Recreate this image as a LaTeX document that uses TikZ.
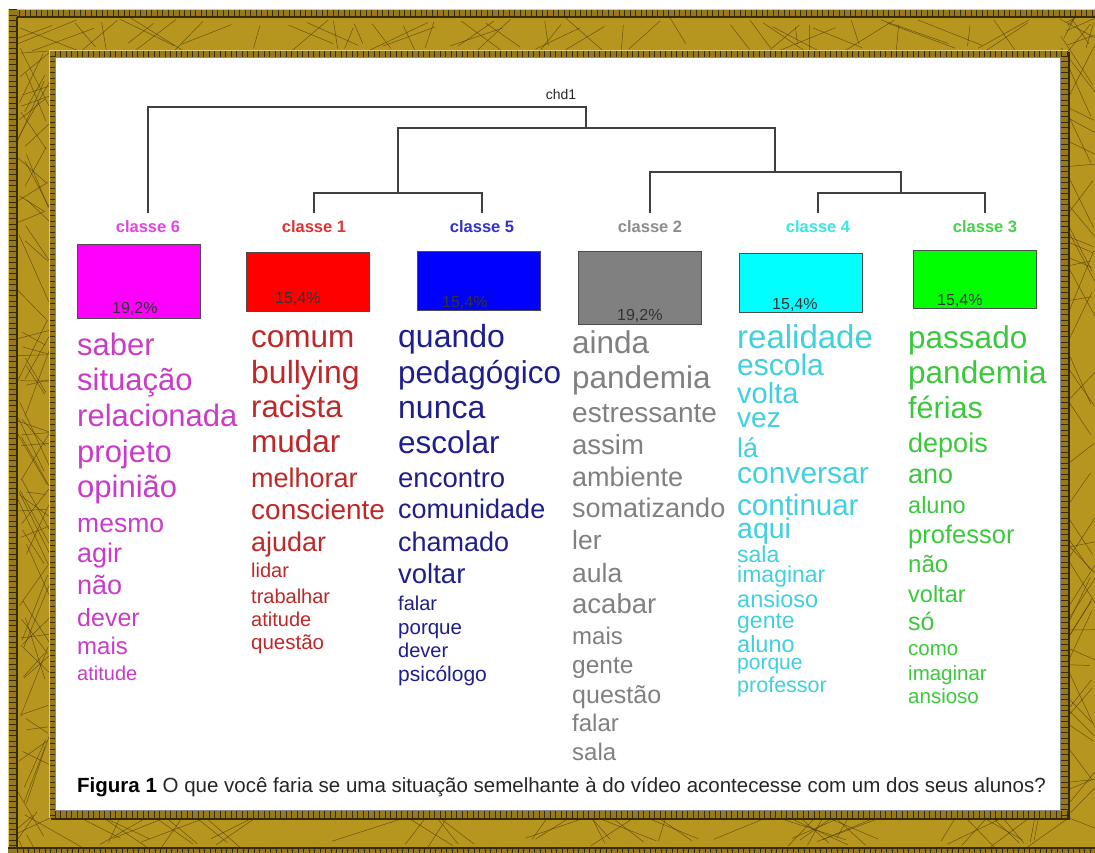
\documentclass[tikz,border=0pt]{standalone}
\usepackage{fontspec}
\setmainfont{Liberation Sans}
\definecolor{goldc}{RGB}{183,150,32}
\definecolor{beadc}{RGB}{150,122,26}
\definecolor{beaddk}{RGB}{55,42,6}
\definecolor{beadlt}{RGB}{225,205,120}
\definecolor{scratchc}{RGB}{70,55,8}
\definecolor{c6w}{RGB}{200,60,200}
\definecolor{c1w}{RGB}{190,40,40}
\definecolor{c5w}{RGB}{30,30,140}
\definecolor{c2w}{RGB}{128,128,128}
\definecolor{c4w}{RGB}{64,208,222}
\definecolor{c3w}{RGB}{60,200,60}
\definecolor{c6l}{RGB}{225,70,225}
\definecolor{c1l}{RGB}{225,50,50}
\definecolor{c5l}{RGB}{50,50,200}
\definecolor{c2l}{RGB}{140,140,140}
\definecolor{c4l}{RGB}{60,228,230}
\definecolor{c3l}{RGB}{70,210,70}
\tikzset{
 wd/.style={anchor=base west, inner sep=0pt},
 lab/.style={anchor=base, inner sep=2pt, font=\bfseries\fontsize{16.5}{16.5}\selectfont},
 cbox/.style={draw=black!70, line width=1pt, inner sep=0pt, minimum width=123pt},
 pct/.style={anchor=base west, inner sep=0pt, text=black!80, font=\fontsize{16}{16}\selectfont},
 dend/.style={draw=black!75, line width=1.2pt},
 scratch/.style={draw=scratchc, line width=0.5pt, opacity=0.7},
 beadticks/.style={draw=beaddk, dash pattern=on 1.2pt off 4.3pt},
}
\begin{document}
\begin{tikzpicture}[x=1pt,y=-1pt]
\useasboundingbox (0,0) rectangle (1095,852);
\clip (0,0) rectangle (1095,852);
\fill[white] (0,0) rectangle (1095,852);
% ---- frame ----
\fill[goldc] (8,9) rectangle (1100,860);
\begin{scope}
\clip (17,17) rectangle (1100,848);
\pgfmathsetseed{4711}
\foreach \i in {1,...,60}{
  \pgfmathsetmacro\xa{17+1080*rnd}
  \pgfmathsetmacro\xb{\xa+140*rnd-70}
  \draw[scratch] (\xa,{17+12*rnd}) -- (\xb,{57-14*rnd});
}
\foreach \i in {1,...,60}{
  \pgfmathsetmacro\xa{17+1080*rnd}
  \pgfmathsetmacro\xb{\xa+140*rnd-70}
  \draw[scratch] (\xa,{810+10*rnd}) -- (\xb,{848-10*rnd});
}
\foreach \i in {1,...,80}{
  \pgfmathsetmacro\ya{17+830*rnd}
  \pgfmathsetmacro\yb{\ya+140*rnd-70}
  \draw[scratch] ({17+10*rnd},\ya) -- ({55-12*rnd},\yb);
}
\foreach \i in {1,...,60}{
  \pgfmathsetmacro\ya{17+830*rnd}
  \pgfmathsetmacro\yb{\ya+140*rnd-70}
  \draw[scratch] ({1060+8*rnd},\ya) -- ({1098-8*rnd},\yb);
}
\end{scope}
% outer beads
\fill[beadc] (8,9) rectangle (1100,17);
\draw[beadticks, line width=8pt] (8,13) -- (1100,13);
\draw[beaddk, line width=1.2pt] (8,17) -- (1100,17);
\draw[beadlt, line width=0.8pt] (8,9.4) -- (1100,9.4);
\fill[beadc] (8,9) rectangle (17,860);
\draw[beadticks, line width=9pt] (12.5,9) -- (12.5,860);
\draw[beaddk, line width=1.2pt] (17,17) -- (17,860);
\draw[beadlt, line width=0.8pt] (8.4,9) -- (8.4,860);
\fill[beadc] (8,848) rectangle (1100,860);
\draw[beadticks, line width=8pt] (17,852) -- (1100,852);
\draw[beaddk, line width=1.2pt] (8,848) -- (1100,848);
% inner beads
\fill[beaddk] (51,52) rectangle (1070,820);
\fill[beadc] (49,50) rectangle (1068,818);
\draw[beadticks, line width=7pt] (49,53.5) -- (1068,53.5);
\draw[beadticks, line width=7pt] (49,814.5) -- (1068,814.5);
\draw[beadticks, line width=6pt] (52,50) -- (52,818);
\draw[beadticks, line width=7pt] (1064,50) -- (1064,818);
\draw[beadlt, line width=0.8pt] (49,50.4) -- (1068,50.4);
\draw[beadlt, line width=0.8pt] (49.4,50) -- (49.4,818);
\fill[white] (55,57) rectangle (1060,810);
\draw[black!45, line width=0.6pt] (55,57) rectangle (1060,810);
% ---- dendrogram ----
\node[font=\fontsize{14}{14}\selectfont, text=black!85, anchor=base, inner sep=1pt] (chd) at (561,99) {chd1};
\node[lab, text=c6l] (lab6) at (148,232) {classe 6};
\node[lab, text=c1l] (lab1) at (314,232) {classe 1};
\node[lab, text=c5l] (lab5) at (482,232) {classe 5};
\node[lab, text=c2l] (lab2) at (650,232) {classe 2};
\node[lab, text=c4l] (lab4) at (818,232) {classe 4};
\node[lab, text=c3l] (lab3) at (985,232) {classe 3};
\coordinate (root) at (586,107);
\coordinate (nA) at (586,128);
\coordinate (nB) at (398,193);
\coordinate (nC) at (775,172);
\coordinate (nD) at (901,193);
\draw[dend] ([yshift=5pt]lab6.north) |- (root) -- (nA);
\draw[dend] (nB) |- (nA) -| (nC);
\draw[dend] ([yshift=5pt]lab1.north) |- (nB) -| ([yshift=5pt]lab5.north);
\draw[dend] ([yshift=5pt]lab2.north) |- (nC) -| (nD);
\draw[dend] ([yshift=5pt]lab4.north) |- (nD) -| ([yshift=5pt]lab3.north);
% ---- boxes ----
\node[cbox, fill={rgb,255:red,255;green,0;blue,255}, minimum height=74pt] (box6) at (138.5,281) {};
\node[cbox, fill={rgb,255:red,255;green,0;blue,0}, minimum height=59pt] (box1) at (307.5,281.5) {};
\node[cbox, fill={rgb,255:red,0;green,0;blue,255}, minimum height=59pt] (box5) at (478.5,280.5) {};
\node[cbox, fill={rgb,255:red,128;green,128;blue,128}, minimum height=73pt] (box2) at (639.5,287.5) {};
\node[cbox, fill={rgb,255:red,0;green,255;blue,255}, minimum height=59pt] (box4) at (800.5,282.5) {};
\node[cbox, fill={rgb,255:red,0;green,255;blue,0}, minimum height=58pt] (box3) at (974.5,279) {};
\node[pct] (p6) at (112,313) {19,2\%};
\node[pct] (p1) at (275,303) {15,4\%};
\node[pct] (p5) at (442,307) {15,4\%};
\node[pct] (p2) at (617,320) {19,2\%};
\node[pct] (p4) at (772,309) {15,4\%};
\node[pct] (p3) at (937,305) {15,4\%};
% ---- word lists ----
\foreach \w/\s/\y [count=\i] in {saber/31/355, situação/31/390, relacionada/31/426, projeto/31/462, opinião/31/497, mesmo/26.5/532, agir/27/562, não/27/594, dever/25/626, mais/24/654, atitude/20/680}
  \node[wd, text=c6w, font={\fontsize{\s}{\s}\selectfont}] (cs\i) at (77,\y) {\w};
\foreach \w/\s/\y [count=\i] in {comum/31.5/347, bullying/32/383, racista/31/417, mudar/31.5/452, melhorar/27/487, consciente/28/519, ajudar/27/551, lidar/20/577, trabalhar/20/603, atitude/20/626, questão/20.5/649}
  \node[wd, text=c1w, font={\fontsize{\s}{\s}\selectfont}] (ca\i) at (251,\y) {\w};
\foreach \w/\s/\y [count=\i] in {quando/32/347, pedagógico/31.5/383, nunca/32/418, escolar/31.5/453, encontro/27.5/487, comunidade/27/518, chamado/27/551, voltar/27.5/583, falar/20/610, porque/20.5/634, dever/20/657, psicólogo/21/681}
  \node[wd, text=c5w, font={\fontsize{\s}{\s}\selectfont}] (ce\i) at (398,\y) {\w};
\foreach \w/\s/\y [count=\i] in {ainda/31.5/353, pandemia/31.5/388, estressante/28/422, assim/27.5/454, ambiente/27/486, somatizando/27/517, ler/26.5/549, aula/26.5/582, acabar/27.5/613, mais/24/644, gente/24.5/673, questão/25/703, falar/24/731, sala/24/760}
  \node[wd, text=c2w, font={\fontsize{\s}{\s}\selectfont}] (cb\i) at (572,\y) {\w};
\foreach \w/\s/\y [count=\i] in {realidade/33/348, escola/30/375, volta/29/403, vez/28/427, lá/27/457, conversar/30/483, continuar/29.5/515, aqui/28.5/538, sala/23/562, imaginar/23/582, ansioso/23.5/607, gente/23/628, aluno/23.5/652, porque/21/669, professor/21.5/692}
  \node[wd, text=c4w, font={\fontsize{\s}{\s}\selectfont}] (cd\i) at (737,\y) {\w};
\foreach \w/\s/\y [count=\i] in {passado/31.5/348, pandemia/31.5/383, férias/30.5/418, depois/27/452, ano/27/483, aluno/23.5/513, professor/25.5/543, não/24/572, voltar/23.5/602, só/25/630, como/20.5/655, imaginar/20.5/680, ansioso/20.5/703}
  \node[wd, text=c3w, font={\fontsize{\s}{\s}\selectfont}] (cc\i) at (908,\y) {\w};
% ---- caption ----
\node[wd, text=black!85, font={\fontsize{20.5}{20.5}\selectfont}] (cap) at (77,792) {{\bfseries\color{black}Figura 1} O que você faria se uma situação semelhante à do vídeo acontecesse com um dos seus alunos?};
\end{tikzpicture}
\end{document}
